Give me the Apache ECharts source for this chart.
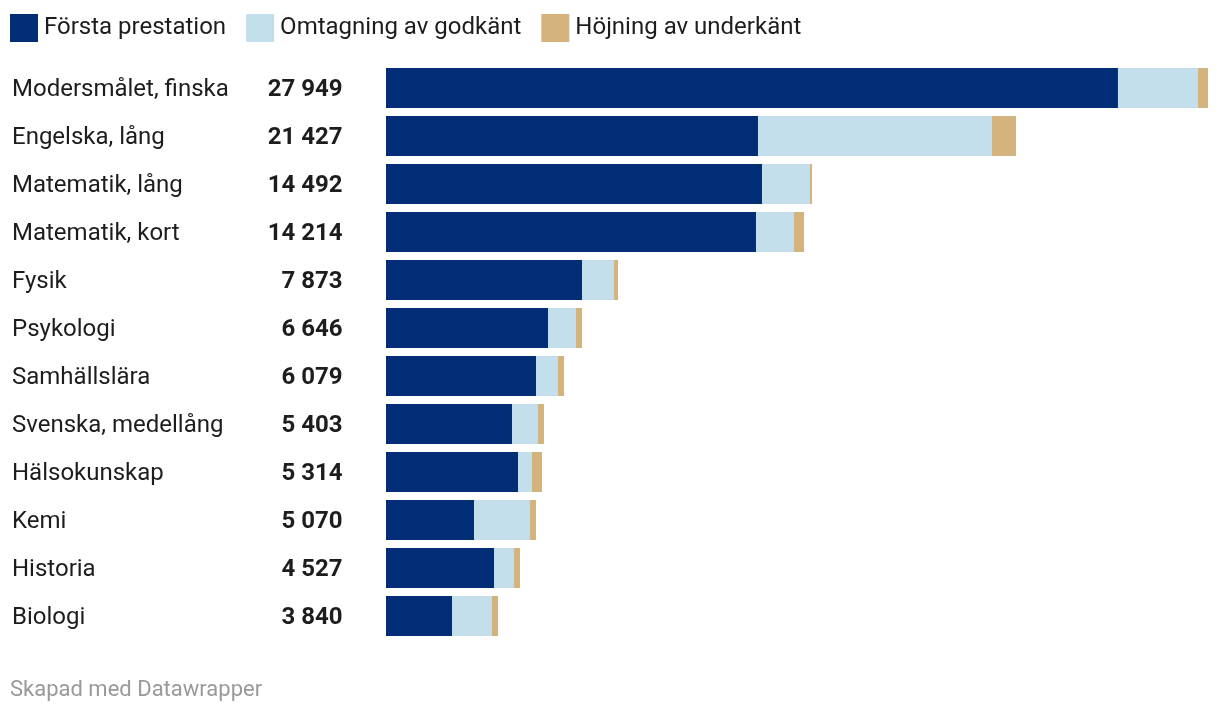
<!DOCTYPE html>
<html>
<head>
<meta charset="utf-8">
<script src="https://cdn.jsdelivr.net/npm/echarts@6/dist/echarts.min.js"></script>
<style>
  html, body { margin: 0; padding: 0; background: #fff; }
  #chart { width: 1220px; height: 714px; }
</style>
</head>
<body>
<div id="chart"></div>
<script>
const subjects = ['Modersmålet, finska', 'Engelska, lång', 'Matematik, lång', 'Matematik, kort', 'Fysik', 'Psykologi', 'Samhällslära', 'Svenska, medellång', 'Hälsokunskap', 'Kemi', 'Historia', 'Biologi'];
const totals = [27949, 21427, 14492, 14214, 7873, 6646, 6079, 5403, 5314, 5070, 4527, 3840];
const forsta = [24888, 12648, 12784, 12580, 6664, 5508, 5100, 4284, 4488, 2992, 3672, 2244];
const omtagning = [2720, 7956, 1632, 1292, 1088, 952, 748, 884, 476, 1904, 680, 1360];
const hojning = [341, 816, 68, 340, 136, 204, 204, 204, 340, 204, 204, 204];

const FONT = 'Roboto';
const TEXT_COLOR = '#1d1d1d';

function formatTotal(n) {
    return String(n).replace(/\B(?=(\d{3})+$)/g, ' ');
}

function barSeries(name, data, color) {
    return {
        name: name,
        type: 'bar',
        stack: 'total',
        barWidth: 40,
        data: data,
        itemStyle: { color: color },
        emphasis: { disabled: true },
    };
}

// The label columns sit on their own grid, 2px lower than the bars.
function labelAxis(data, align, margin, weight) {
    return {
        type: 'category',
        gridIndex: 1,
        inverse: true,
        data: data,
        position: 'left',
        axisLine: { show: false },
        axisTick: { show: false },
        axisLabel: {
            align: align,
            margin: margin,
            fontFamily: FONT,
            fontSize: 24,
            fontWeight: weight,
            color: TEXT_COLOR,
        },
    };
}

const myChart = echarts.init(document.getElementById('chart'));

myChart.setOption({
    animation: false,
    backgroundColor: '#fff',
    textStyle: { fontFamily: FONT },
    title: {
        text: 'Skapad med Datawrapper',
        left: 10,
        top: 679,
        padding: 0,
        textStyle: { fontFamily: FONT, fontSize: 22, fontWeight: 'normal', color: '#999999' },
    },
    legend: {
        left: 10,
        top: 14,
        padding: 0,
        itemWidth: 28,
        itemHeight: 28,
        itemGap: 20,
        icon: 'rect',
        selectedMode: false,
        textStyle: { fontFamily: FONT, fontSize: 24, color: TEXT_COLOR, padding: [0, 0, 0, 1] },
    },
    grid: [
        { left: 386, right: 12, top: 64, height: 576 },
        { left: 386, right: 12, top: 66, height: 576 },
    ],
    xAxis: [
        { type: 'value', min: 0, max: 27949, show: false },
        { type: 'value', gridIndex: 1, min: 0, max: 27949, show: false },
    ],
    yAxis: [
        { type: 'category', inverse: true, data: subjects, show: false },
        labelAxis(subjects, 'left', 374, 'normal'),
        labelAxis(totals.map(formatTotal), 'right', 43.5, 'bold'),
    ],
    series: [
        barSeries('Första prestation', forsta, '#012d77'),
        barSeries('Omtagning av godkänt', omtagning, '#c3dfeb'),
        barSeries('Höjning av underkänt', hojning, '#d5b37c'),
    ],
});
</script>
</body>
</html>
